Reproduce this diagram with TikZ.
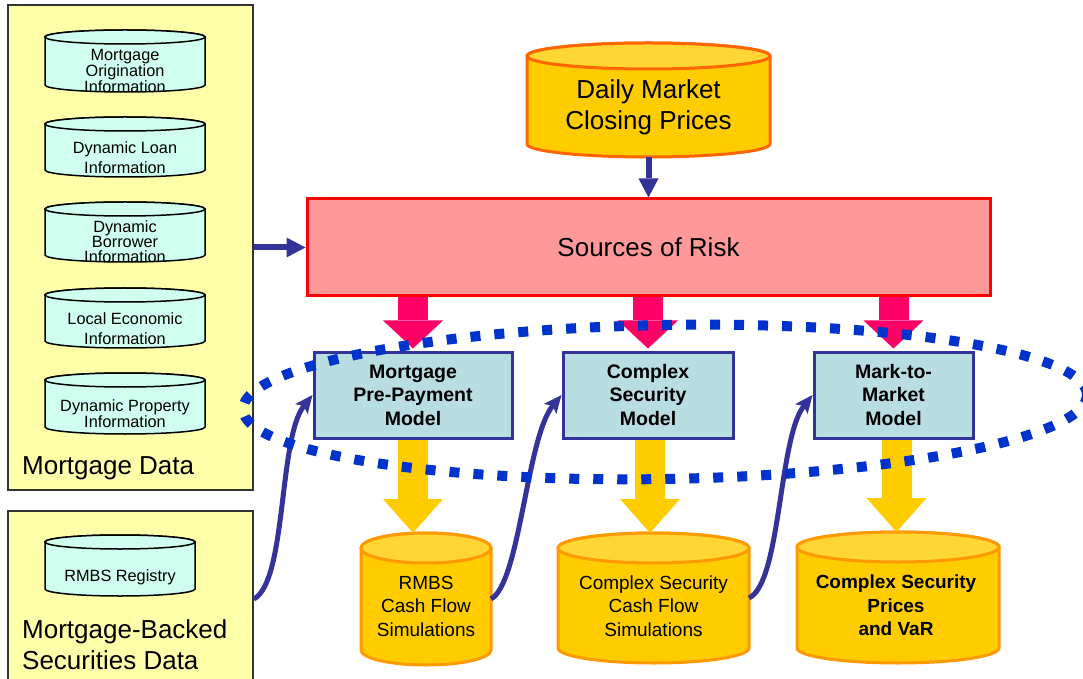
\documentclass[tikz,border=0pt]{standalone}
\usepackage{fontspec}
\setmainfont{Liberation Sans}
\usetikzlibrary{arrows.meta,calc}
\definecolor{panelfill}{HTML}{FFFFAA}
\definecolor{panelline}{HTML}{333333}
\definecolor{mint}{HTML}{D0FFF0}
\definecolor{gold}{HTML}{FFCC00}
\definecolor{goldtop}{HTML}{FFD633}
\definecolor{redorange}{HTML}{FF6600}
\definecolor{orangeline}{HTML}{FF9900}
\definecolor{srcfill}{HTML}{FF9999}
\definecolor{srcline}{HTML}{FF0000}
\definecolor{modelfill}{HTML}{B8DEE2}
\definecolor{navy}{HTML}{333399}
\definecolor{hotpink}{HTML}{FF0066}
\definecolor{dotblue}{HTML}{0033CC}

% name, cx, cy, w, h, ry, body style, top style
\newcommand{\drawcyl}[8]{%
  \node[cylbox, minimum width=#4, minimum height=#5] (#1) at (#2,#3) {};
  \path[#7] ({#2-#4/2},{#3+#5/2-#6}) -- ({#2-#4/2},{#3-#5/2+#6})
     arc[start angle=180, end angle=360, x radius={#4/2}, y radius=#6]
     -- ({#2+#4/2},{#3+#5/2-#6})
     arc[start angle=0, end angle=180, x radius={#4/2}, y radius=#6] -- cycle;
  \path[#8] (#2,{#3+#5/2-#6}) ellipse[x radius={#4/2}, y radius=#6];
}

\begin{document}
\begin{tikzpicture}[x=1pt,y=1pt,
  panel/.style={draw=panelline, line width=1.5pt, fill=panelfill, inner sep=0pt},
  cylbox/.style={inner sep=0pt, outer sep=0pt},
  mintbody/.style={fill=mint, draw=black, line width=1.5pt},
  goldbody/.style={fill=gold, draw=orangeline, line width=3pt},
  goldtopst/.style={fill=goldtop, draw=orangeline, line width=3pt},
  dailybody/.style={fill=gold, draw=redorange, line width=3pt},
  dailytop/.style={fill=goldtop, draw=redorange, line width=3pt},
  smalltxt/.style={font=\fontsize{16.3}{15}\selectfont, align=center, inner sep=0pt},
  smalltxtw/.style={font=\fontsize{16.3}{20}\selectfont, align=center, inner sep=0pt},
  bigtxt/.style={font=\fontsize{26}{31}\selectfont, align=center, inner sep=0pt},
  midtxt/.style={font=\fontsize{19}{23.5}\selectfont, align=center, inner sep=0pt},
  midbold/.style={font=\fontsize{19}{23.5}\selectfont\bfseries, align=center, inner sep=0pt},
  modelbox/.style={draw=navy, line width=3pt, fill=modelfill, minimum height=86pt, inner sep=0pt,
     font=\fontsize{19.5}{23.5}\selectfont\bfseries, align=center},
  srcbox/.style={draw=srcline, line width=3pt, fill=srcfill, inner sep=0pt,
     font=\fontsize{26}{31}\selectfont},
  bluearr/.style={draw=navy, line width=6pt, -{Triangle[length=19pt,width=20pt,line width=0pt]}},
  curvearr/.style={draw=navy, line width=5pt, -{Stealth[length=18pt,width=16pt,inset=4pt,line width=0pt]}},
  pinkarr/.style={draw=hotpink, line width=30pt, -{Triangle[length=28pt,width=60pt,line width=0pt]}},
  yelarr/.style={draw=gold, line width=30pt, -{Triangle[length=34pt,width=60pt,line width=0pt]}},
  dotring/.style={draw=dotblue, line width=10pt, dash pattern=on 10pt off 14pt}
]
\useasboundingbox (0,0) rectangle (1083,678);

% panels
\node[panel, minimum width=245, minimum height=485] (mdata) at (130.5,430.5) {};
\node[panel, minimum width=245, minimum height=180] (mbs) at (130.5,77) {};
\node[bigtxt, anchor=west] (mdlabel) at (22,210) {Mortgage Data};
\node[bigtxt, anchor=west, align=left] (mbslabel) at (22,33.5) {Mortgage-Backed\\Securities Data};

% small cylinders
\drawcyl{c1}{125}{617}{160}{62}{7}{mintbody}{mintbody}
\node[smalltxt] (c1t) at (125,607) {Mortgage\\Origination\\Information};
\drawcyl{c2}{125}{531}{160}{60}{7}{mintbody}{mintbody}
\node[smalltxtw] (c2t) at (125,520) {Dynamic Loan\\Information};
\drawcyl{c3}{125}{446}{160}{60}{7}{mintbody}{mintbody}
\node[smalltxt] (c3t) at (125,436) {Dynamic\\Borrower\\Information};
\drawcyl{c4}{125}{360}{160}{60}{7}{mintbody}{mintbody}
\node[smalltxtw] (c4t) at (125,349) {Local Economic\\Information};
\drawcyl{c5}{125}{274.5}{160}{61}{7}{mintbody}{mintbody}
\node[smalltxt] (c5t) at (125,264.5) {Dynamic Property\\Information};
\drawcyl{c6}{120}{112.5}{150}{61}{7}{mintbody}{mintbody}
\node[smalltxt] (c6t) at (120,101) {RMBS Registry};

% daily market prices
\drawcyl{dmp}{648.5}{578}{243}{114}{13}{dailybody}{dailytop}
\node[bigtxt] (dmpt) at (648.5,570.5) {Daily Market\\Closing Prices};

% sources of risk
\node[srcbox, minimum width=683, minimum height=97] (src) at (648.5,430.5) {Sources of Risk};

% models
\node[modelbox, minimum width=198] (m1) at (413,283) {Mortgage\\Pre-Payment\\Model};
\node[modelbox, minimum width=170] (m2) at (648,283) {Complex\\Security\\Model};
\node[modelbox, minimum width=159] (m3) at (893.5,283) {Mark-to-\\Market\\Model};

% bottom cylinders
\drawcyl{b1}{426}{79}{130}{132}{15}{goldbody}{goldtopst}
\node[midtxt] (b1t) at (426,72) {RMBS\\Cash Flow\\Simulations};
\drawcyl{b2}{653.5}{80}{191}{130}{15}{goldbody}{goldtopst}
\node[midtxt] (b2t) at (653.5,72) {Complex Security\\Cash Flow\\Simulations};
\drawcyl{b3}{898}{80.5}{202}{131}{15}{goldbody}{goldtopst}
\node[midbold] (b3t) at (896,72.5) {Complex Security\\Prices\\and VaR};

% straight arrows
\draw[bluearr] (dmp.south) -- (dmp.south |- src.north);
\draw[bluearr] (mdata.east |- src.west) -- (src.west);

% pink arrows
\draw[pinkarr] (src.south -| m1.north) -- ([yshift=2pt]m1.north);
\draw[pinkarr] (src.south -| m2.north) -- ([yshift=2pt]m2.north);
\draw[pinkarr] (src.south -| m3.north) -- ([yshift=2pt]m3.north);

% yellow arrows
\draw[yelarr] (m1.south) -- (m1.south |- b1.north);
\draw[yelarr] ([xshift=2pt]m2.south) -- ([xshift=2pt]m2.south |- b2.north);
\draw[yelarr] ([xshift=3pt]m3.south) -- ([xshift=3pt]m3.south |- b3.north);

% curved arrows
\draw[curvearr] (mbs.east |- b1.east) .. controls +(33,17) and +(-34,-43) .. (m1.west);
\draw[curvearr] (b1.east) .. controls +(29,16) and +(-35,-43) .. (m2.west);
\draw[curvearr] (b2.east) .. controls +(32,15) and +(-34,-43) .. (m3.west);

% dotted ring
\draw[dotring, rotate around={1:(665,276)}] (665,276) ellipse[x radius=422, y radius=77];
\end{tikzpicture}
\end{document}
